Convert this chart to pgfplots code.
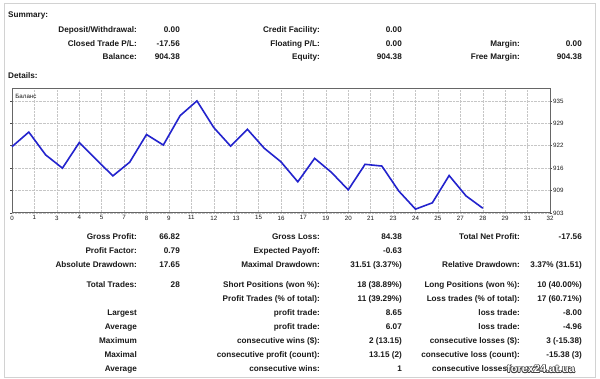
\documentclass[border=0pt]{standalone}
\usepackage{pgfplots}
\pgfplotsset{compat=1.18}
\usepackage{fontspec}
\setmainfont{Liberation Sans}
\definecolor{txt}{rgb}{0.1,0.1,0.1}
\definecolor{bal}{RGB}{35,35,205}
\newcommand\lf{\fontsize{8.2}{9}\selectfont\bfseries}
\newcommand\R[3]{\node[anchor=base east,inner sep=0,text=txt] at (#1,#2) {\lf #3};}
\begin{document}
\begin{tikzpicture}
\path[fill=white] (0,0) rectangle (600bp,379bp);
\begin{scope}[x=1bp,y=-1bp,yshift=379bp]
\draw[gray!35,line width=0.8bp] (4,3.5) rectangle (595.5,377);
\node[anchor=base west,inner sep=0,text=txt] at (8,17.5) {\lf Summary:};
\R{137}{32.5}{Deposit/Withdrawal:}\R{180}{32.5}{0.00}
\R{320}{32.5}{Credit Facility:}\R{402}{32.5}{0.00}
\R{137}{46.5}{Closed Trade P/L:}\R{180}{46.5}{-17.56}
\R{320}{46.5}{Floating P/L:}\R{402}{46.5}{0.00}
\R{520}{46.5}{Margin:}\R{582}{46.5}{0.00}
\R{137}{60}{Balance:}\R{180}{60}{904.38}
\R{320}{60}{Equity:}\R{402}{60}{904.38}
\R{520}{60}{Free Margin:}\R{582}{60}{904.38}
\node[anchor=base west,inner sep=0,text=txt] at (8,78.5) {\lf Details:};
% stats
\R{137}{240}{Gross Profit:}\R{180}{240}{66.82}
\R{320}{240}{Gross Loss:}\R{402}{240}{84.38}
\R{520}{240}{Total Net Profit:}\R{582}{240}{-17.56}
\R{137}{254}{Profit Factor:}\R{180}{254}{0.79}
\R{320}{254}{Expected Payoff:}\R{402}{254}{-0.63}
\R{137}{268}{Absolute Drawdown:}\R{180}{268}{17.65}
\R{320}{268}{Maximal Drawdown:}\R{402}{268}{31.51 (3.37\%)}
\R{520}{268}{Relative Drawdown:}\R{582}{268}{3.37\% (31.51)}
\R{137}{288}{Total Trades:}\R{180}{288}{28}
\R{320}{288}{Short Positions (won \%):}\R{402}{288}{18 (38.89\%)}
\R{520}{288}{Long Positions (won \%):}\R{582}{288}{10 (40.00\%)}
\R{320}{302}{Profit Trades (\% of total):}\R{402}{302}{11 (39.29\%)}
\R{520}{302}{Loss trades (\% of total):}\R{582}{302}{17 (60.71\%)}
\R{137}{316}{Largest}\R{320}{316}{profit trade:}\R{402}{316}{8.65}
\R{520}{316}{loss trade:}\R{582}{316}{-8.00}
\R{137}{330}{Average}\R{320}{330}{profit trade:}\R{402}{330}{6.07}
\R{520}{330}{loss trade:}\R{582}{330}{-4.96}
\R{137}{344}{Maximum}\R{320}{344}{consecutive wins (\$):}\R{402}{344}{2 (13.15)}
\R{520}{344}{consecutive losses (\$):}\R{582}{344}{3 (-15.38)}
\R{137}{358}{Maximal}\R{320}{358}{consecutive profit (count):}\R{402}{358}{13.15 (2)}
\R{520}{358}{consecutive loss (count):}\R{582}{358}{-15.38 (3)}
\R{137}{372}{Average}\R{320}{372}{consecutive wins:}\R{402}{372}{1}
\R{510}{372}{consecutive losses:}
% watermark
\foreach \dx/\dy in {-0.7/0,0.7/0,0/-0.7,0/0.7,-0.5/-0.5,0.5/0.5,-0.5/0.5,0.5/-0.5}{
  \node[anchor=base west,inner sep=0,text=black!75] at ({507+\dx},{373+\dy}) {\fontsize{11}{12}\selectfont\bfseries forex24.at.ua};}
\node[anchor=base west,inner sep=0,text=white] at (507,373) {\fontsize{11}{12}\selectfont\bfseries forex24.at.ua};
\end{scope}
\begin{axis}[
  at={(12bp,166bp)}, anchor=south west, scale only axis,
  width=538bp, height=124bp,
  xmin=0, xmax=32, ymin=903, ymax=938.4,
  xtick={0,1.3333,2.6667,4,5.3333,6.6667,8,9.3333,10.6667,12,13.3333,14.6667,16,17.3333,18.6667,20,21.3333,22.6667,24,25.3333,26.6667,28,29.3333,30.6667,32},
  xticklabels={0,1,3,4,5,7,8,9,11,12,13,15,16,17,19,20,21,23,24,25,27,28,29,31,32},
  ytick={903,909.4,915.8,922.2,928.6,935},
  yticklabels={903,909,916,922,929,935},
  yticklabel pos=right,
  grid=major,
  grid style={densely dotted, gray!45, line width=0.5bp},
  axis line style={black!60, line width=1bp},
  tick align=outside, major tick length=2bp,
  xtick style={draw=none},
  ytick style={gray!60!black, line width=0.5bp},
  ticklabel style={font=\fontsize{6.2}{7}\selectfont, text=txt, inner sep=1bp},
  xticklabel style={yshift=0.5bp},
  clip=false,
]
\addplot[color=bal, line width=1.6bp, mark=none] coordinates {
(0,921.94) (1,926.1) (2,919.6) (3,915.8) (4,923.1) (5,918.3) (6,913.6)
(7,917.5) (8,925.4) (9,922.4) (10,930.8) (11,935.0) (12,927.4) (13,922.1)
(14,926.9) (15,921.5) (16,917.6) (17,911.9) (18,918.6) (19,914.6) (20,909.6)
(21,916.9) (22,916.4) (23,909.3) (24,904.1) (25,905.9) (26,913.7) (27,907.9)
(28,904.38)};
\node[anchor=north west, inner sep=0, font=\fontsize{6.2}{7}\selectfont, text=txt] at (rel axis cs:0.006,0.96) {Баланс};
\end{axis}
\end{tikzpicture}
\end{document}
